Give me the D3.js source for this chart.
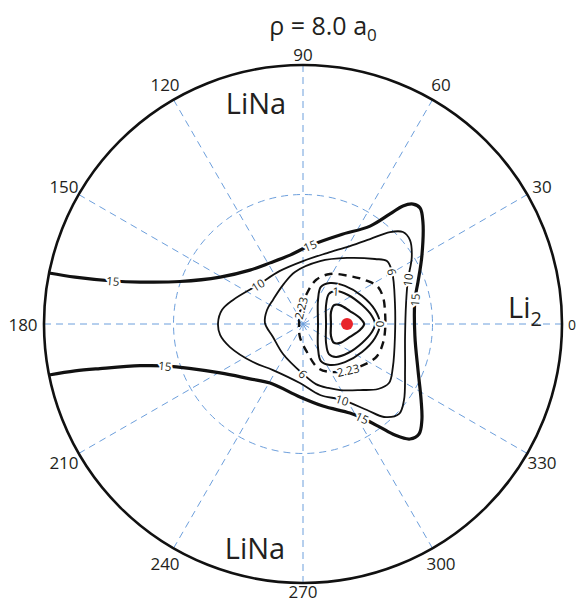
<!DOCTYPE html>
<html><head><meta charset="utf-8">
<script src="https://cdn.jsdelivr.net/npm/d3@7"></script>
<style>body{margin:0;background:#fff}svg{display:block}text{font-family:"Open Sans",sans-serif;fill:#231f20}</style>
</head><body><svg id="c" width="579" height="603"></svg>
<script>
// ---- data (normalized radius units: outer circle = 1) ----
const angleTicks = [0,30,60,90,120,150,180,210,240,270,300,330];
const angleLabels = ["0","30","60","90","120","150","180","210","240","270","300","330"];
const gridRadii = [0.5];
const minimumPoint = [0.170, 0.0];

const contour15 = [[-0.981,0.197],[-0.880,0.181],[-0.734,0.166],[-0.629,0.162],[-0.475,0.164],[-0.320,0.181],[-0.205,0.208],[-0.127,0.236],[-0.050,0.266],[0.027,0.303],[0.143,0.344],[0.259,0.378],[0.336,0.425],[0.386,0.456],[0.425,0.463],[0.452,0.448],[0.463,0.394],[0.459,0.263],[0.444,0.162],[0.432,0.093],[0.432,-0.046],[0.444,-0.178],[0.456,-0.293],[0.459,-0.371],[0.448,-0.425],[0.413,-0.444],[0.355,-0.429],[0.297,-0.398],[0.228,-0.363],[0.181,-0.344],[0.077,-0.317],[-0.012,-0.282],[-0.127,-0.228],[-0.205,-0.212],[-0.320,-0.189],[-0.533,-0.162],[-0.629,-0.161],[-0.784,-0.172],[-0.880,-0.181],[-0.981,-0.197]];
const contour10 = [[-0.328,0.004],[-0.313,0.054],[-0.270,0.093],[-0.174,0.151],[-0.089,0.205],[0.000,0.243],[0.093,0.274],[0.181,0.301],[0.259,0.328],[0.336,0.355],[0.386,0.355],[0.413,0.324],[0.420,0.259],[0.405,0.170],[0.398,0.081],[0.394,-0.050],[0.394,-0.178],[0.390,-0.293],[0.371,-0.347],[0.313,-0.359],[0.247,-0.332],[0.151,-0.293],[0.066,-0.274],[-0.012,-0.228],[-0.116,-0.178],[-0.193,-0.147],[-0.282,-0.089],[-0.320,-0.042]];
const contour6 = [[-0.147,0.004],[-0.139,0.054],[-0.116,0.093],[-0.077,0.151],[-0.031,0.201],[0.066,0.243],[0.170,0.255],[0.278,0.251],[0.324,0.243],[0.344,0.201],[0.355,0.081],[0.355,-0.050],[0.347,-0.166],[0.332,-0.228],[0.290,-0.251],[0.220,-0.255],[0.143,-0.255],[0.097,-0.247],[0.050,-0.232],[0.000,-0.193],[-0.077,-0.116],[-0.116,-0.050]];
const contour223 = [[-0.015,0.004],[-0.008,0.062],[0.012,0.112],[0.050,0.170],[0.104,0.193],[0.181,0.185],[0.239,0.170],[0.286,0.147],[0.309,0.104],[0.317,0.042],[0.317,-0.023],[0.309,-0.073],[0.286,-0.124],[0.243,-0.154],[0.174,-0.178],[0.104,-0.185],[0.058,-0.170],[0.015,-0.108],[-0.012,-0.050]];
const contour0 = [[0.058,0.000],[0.058,0.093],[0.069,0.143],[0.104,0.158],[0.162,0.147],[0.228,0.108],[0.278,0.054],[0.297,0.000],[0.278,-0.054],[0.228,-0.108],[0.162,-0.147],[0.104,-0.158],[0.069,-0.143],[0.058,-0.093]];
const contour1 = [[0.089,0.000],[0.089,0.073],[0.100,0.116],[0.127,0.127],[0.174,0.112],[0.228,0.073],[0.266,0.031],[0.278,0.000],[0.266,-0.031],[0.228,-0.073],[0.174,-0.112],[0.127,-0.127],[0.100,-0.116],[0.089,-0.073]];
const contourInner = [[0.108,0.000],[0.108,0.046],[0.120,0.073],[0.143,0.073],[0.181,0.050],[0.220,0.023],[0.236,0.000],[0.220,-0.023],[0.181,-0.050],[0.143,-0.073],[0.120,-0.073],[0.108,-0.046]];

// label text, contour it sits on, vertex index
const labelTexts  = ["15","15","15","15","15","10","10","10","6","6","2.23","2.23","1","0"];
const labelLines  = ["c15","c15","c15","c15","c15","c10","c10","c10","c6","c6","c223","c223","c1","c0"];
const labelVertex = [2,35,9,19,28,3,13,21,9,19,1,14,3,7];

// ---- drawing ----
const W=579,H=603,cx=303,cy=324,R=259;
const svg=d3.select("#c");
const x=d3.scaleLinear().domain([-1,1]).range([cx-R,cx+R]);
const y=d3.scaleLinear().domain([-1,1]).range([cy+R,cy-R]);
const r=d3.scaleLinear().domain([0,1]).range([0,R]);
const grid="#6d9fdc";

const g=svg.append("g");
g.selectAll("circle.grid").data(gridRadii).join("circle")
 .attr("cx",x(0)).attr("cy",y(0)).attr("r",d=>r(d))
 .attr("fill","none").attr("stroke",grid).attr("stroke-width",1).attr("stroke-dasharray","7,5");
g.selectAll("line.sp").data(angleTicks).join("line")
 .attr("x1",x(0)).attr("y1",y(0))
 .attr("x2",d=>x(Math.cos(d*Math.PI/180))).attr("y2",d=>y(Math.sin(d*Math.PI/180)))
 .attr("stroke",grid).attr("stroke-width",1).attr("stroke-dasharray","7,5");
g.append("circle").attr("cx",x(0)).attr("cy",y(0)).attr("r",r(1))
 .attr("fill","none").attr("stroke","#111").attr("stroke-width",2.6);

const labOff=d=>(d===90?11:(d===270?8:(d===0?10:(d===180?21:17))));
g.selectAll("text.ang").data(angleTicks).join("text")
 .attr("x",d=>cx+(R+labOff(d))*Math.cos(d*Math.PI/180))
 .attr("y",d=>cy-(R+labOff(d))*Math.sin(d*Math.PI/180))
 .attr("text-anchor","middle").attr("dominant-baseline","central")
 .attr("font-size",d=>d===0?14:17)
 .text((d,i)=>angleLabels[i]);

const lineOpen=d3.line().x(d=>x(d[0])).y(d=>y(d[1])).curve(d3.curveCatmullRom.alpha(0.5));
const lineClosed=d3.line().x(d=>x(d[0])).y(d=>y(d[1])).curve(d3.curveCatmullRomClosed.alpha(0.5));

const contours=[
 {id:"c15",pts:contour15,closed:false,w:3.2,dash:null},
 {id:"c10",pts:contour10,closed:true,w:1.8,dash:null},
 {id:"c6",pts:contour6,closed:true,w:1.8,dash:null},
 {id:"c223",pts:contour223,closed:true,w:2.4,dash:"8,6"},
 {id:"c0",pts:contour0,closed:true,w:2,dash:null},
 {id:"c1",pts:contour1,closed:true,w:2,dash:null},
 {id:"ci",pts:contourInner,closed:true,w:2.2,dash:null}
];
const cg=svg.append("g");
contours.forEach(c=>{
 const p=cg.append("path").attr("d",(c.closed?lineClosed:lineOpen)(c.pts))
  .attr("fill","none").attr("stroke","#111").attr("stroke-width",c.w).attr("stroke-linejoin","round");
 if(c.dash) p.attr("stroke-dasharray",c.dash);
});

svg.append("circle").attr("cx",x(minimumPoint[0])).attr("cy",y(minimumPoint[1])).attr("r",6).attr("fill","#e8242b");

const byId={};contours.forEach(c=>byId[c.id]=c);
labelTexts.forEach((t,i)=>{
 const c=byId[labelLines[i]];const k=labelVertex[i];const n=c.pts.length;
 const p=c.pts[k];
 const a=c.pts[(k-1+n)%n], b=c.pts[(k+1)%n];
 let ang=Math.atan2(y(b[1])-y(a[1]), x(b[0])-x(a[0]))*180/Math.PI;
 while(ang>=90)ang-=180; while(ang<-90)ang+=180;
 svg.append("text").attr("transform",`translate(${x(p[0])},${y(p[1])}) rotate(${ang})`)
  .attr("text-anchor","middle").attr("dominant-baseline","central")
  .attr("font-size",11.5).attr("stroke","#fff").attr("stroke-width",4).attr("paint-order","stroke")
  .text(t);
});

const tt=svg.append("text").attr("x",323).attr("y",35).attr("text-anchor","middle").attr("font-size",25);
tt.append("tspan").text("ρ = 8.0 a");
tt.append("tspan").attr("font-size",17).attr("dy",6).text("0");
svg.append("text").attr("x",256).attr("y",114).attr("text-anchor","middle").attr("font-size",29).text("LiNa");
svg.append("text").attr("x",255).attr("y",559).attr("text-anchor","middle").attr("font-size",29).text("LiNa");
const li=svg.append("text").attr("x",508).attr("y",318).attr("font-size",29);
li.append("tspan").text("Li");
li.append("tspan").attr("font-size",20).attr("dy",8).text("2");
</script></body></html>
